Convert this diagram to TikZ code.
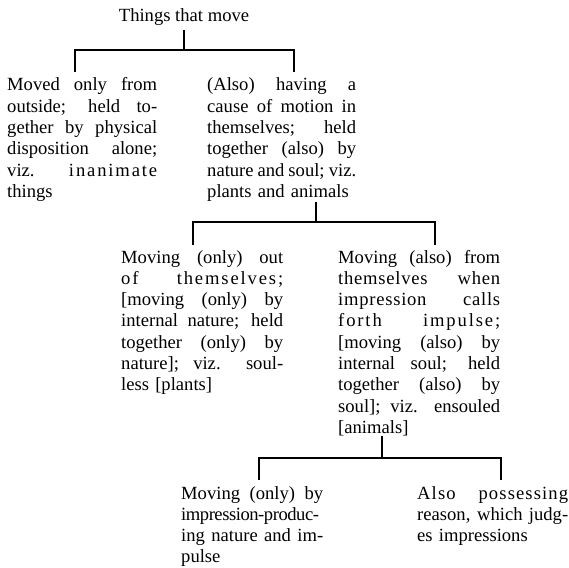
\documentclass[tikz,border=0pt]{standalone}
\usepackage{fontspec}
\setmainfont{Liberation Serif}

\newlength{\blockwidth}
% one justified line of a block
\newcommand{\jline}[1]{\makebox[\blockwidth][s]{\spaceskip=0pt\xspaceskip=0pt #1}\\}
% letterspaced words
\newcommand{\spaced}[2][10]{{\addfontfeature{LetterSpace=#1}#2}}

\begin{document}
\begin{tikzpicture}[x=1pt, y=-1pt,
        block/.style={anchor=base west, inner sep=0pt, align=left, text width=#1,
            execute at begin node={\setlength{\blockwidth}{#1}},
            font=\fontsize{18.6}{21.3}\selectfont},
        bracket/.style={line width=2.2pt, line join=miter}]
        \useasboundingbox (0,0) rectangle (569,567);

        % root
        \node[anchor=base, inner sep=4pt, font=\fontsize{18.6}{21.3}\selectfont] (things) at (184,22) {Things that move};

        % first level
        \node[block=150pt] (outside) at (7,91) {%
            \jline{Moved only from}
            \jline{outside; held to-}
            \jline{gether by physical}
            \jline{disposition alone;}
            \jline{viz. \spaced{inanimate}}
            things};
        \node[block=149pt] (cause) at (207,91) {%
            \jline{(Also) having a}
            \jline{cause of motion in}
            \jline{themselves; held}
            \jline{together (also) by}
            \jline{nature and soul; viz.}
            plants and animals};

        % second level
        \node[block=162pt] (plants) at (121,263) {%
            \jline{Moving (only) out}
            \jline{\spaced{of themselves;}}
            \jline{[moving (only) by}
            \jline{internal nature; held}
            \jline{together (only) by}
            \jline{nature]; viz. soul-}
            less [plants]};
        \node[block=162pt] (animals) at (338,263) {%
            \jline{Moving (also) from}
            \jline{\spaced[4]{themselves when}}
            \jline{\spaced[4]{impression calls}}
            \jline{\spaced{forth impulse;}}
            \jline{[moving (also) by}
            \jline{internal soul; held}
            \jline{together (also) by}
            \jline{soul]; viz. ensouled}
            {[animals]}};

        % third level
        \node[block=142pt] (impulse) at (181,499) {%
            \jline{Moving (only) by}
            \jline{\spaced[-2.5]{impression-produc-}}
            \jline{ing nature and im-}
            pulse};
        \node[block=151pt] (reason) at (417,499) {%
            \jline{\spaced[6]{Also possessing}}
            \jline{reason, which judg-}
            es impressions};

        %% brackets
        \coordinate (split_1) at (184,50);
        \coordinate (tick_1l) at (75,72);
        \coordinate (tick_1r) at (294,72);
        \draw[bracket] (things.south) -- (split_1);
        \draw[bracket] (tick_1l) -- (tick_1l |- split_1) -- (tick_1r |- split_1) -- (tick_1r);

        \coordinate (split_2) at (316,222);
        \coordinate (tick_2l) at (193,245);
        \coordinate (tick_2r) at (435,245);
        \draw[bracket] (split_2 |- cause.south) -- (split_2);
        \draw[bracket] (tick_2l) -- (tick_2l |- split_2) -- (tick_2r |- split_2) -- (tick_2r);

        \coordinate (split_3) at (382,458);
        \coordinate (tick_3l) at (259,480);
        \coordinate (tick_3r) at (501,480);
        \draw[bracket] (split_3 |- animals.south) -- (split_3);
        \draw[bracket] (tick_3l) -- (tick_3l |- split_3) -- (tick_3r |- split_3) -- (tick_3r);
    \end{tikzpicture}
\end{document}
